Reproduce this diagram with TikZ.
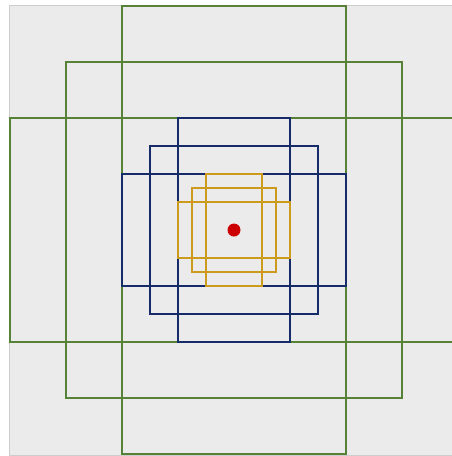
\documentclass[tikz,border=0pt]{standalone}
\usetikzlibrary{calc}
\definecolor{gcol}{RGB}{86,130,56}
\definecolor{bcol}{RGB}{22,44,106}
\definecolor{ycol}{RGB}{204,154,28}
\definecolor{rcol}{RGB}{204,0,0}
\definecolor{bgcol}{RGB}{235,235,235}
\definecolor{bdcol}{RGB}{205,205,205}
\begin{document}
\begin{tikzpicture}[x=1pt,y=-1pt,
  grn/.style={draw=gcol,line width=2.8pt},
  blu/.style={draw=bcol,line width=2.3pt},
  ylw/.style={draw=ycol,line width=2.3pt}]
\useasboundingbox (0,0) rectangle (452,456);
\fill[white] (0,0) rectangle (452,456);
\clip (0,0) rectangle (452,456);
\filldraw[fill=bgcol,draw=bdcol,line width=0.8pt] (9,5) rectangle (470,455);
\coordinate (c) at (234,230);
\def\s{56}
% green
\draw[grn] ($(c)+(-2*\s,-4*\s)$) rectangle ($(c)+(2*\s,4*\s)$);
\draw[grn] ($(c)+(-3*\s,-3*\s)$) rectangle ($(c)+(3*\s,3*\s)$);
\draw[grn] ($(c)+(-4*\s,-2*\s)$) rectangle ($(c)+(4*\s,2*\s)$);
% blue
\draw[blu] ($(c)+(-1*\s,-2*\s)$) rectangle ($(c)+(1*\s,2*\s)$);
\draw[blu] ($(c)+(-1.5*\s,-1.5*\s)$) rectangle ($(c)+(1.5*\s,1.5*\s)$);
\draw[blu] ($(c)+(-2*\s,-1*\s)$) rectangle ($(c)+(2*\s,1*\s)$);
% yellow
\draw[ylw] ($(c)+(-0.5*\s,-1*\s)$) rectangle ($(c)+(0.5*\s,1*\s)$);
\draw[ylw] ($(c)+(-0.75*\s,-0.75*\s)$) rectangle ($(c)+(0.75*\s,0.75*\s)$);
\draw[ylw] ($(c)+(-1*\s,-0.5*\s)$) rectangle ($(c)+(1*\s,0.5*\s)$);
\fill[rcol] (c) circle (6.5pt);
\end{tikzpicture}
\end{document}
